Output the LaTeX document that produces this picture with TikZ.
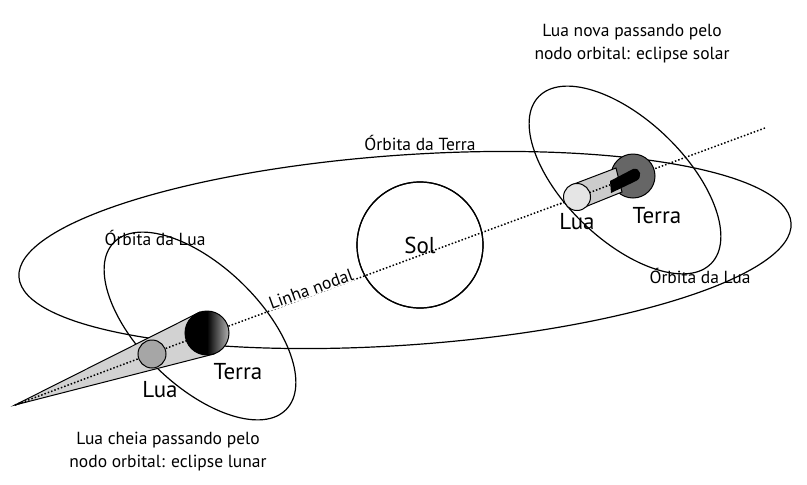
\documentclass[tikz,border=0pt]{standalone}
\usepackage{fontspec}
\setmainfont{PT Sans}
\begin{document}
\begin{tikzpicture}[x=1pt,y=-1pt,
  orb/.style={draw=black,line width=1.2pt},
  lbl/.style={font=\fontsize{17.5}{19}\selectfont},
  big/.style={font=\fontsize{23}{25}\selectfont}]
\useasboundingbox (0,0) rectangle (807,485);
% orbits
\draw[orb] (405,250) ellipse[x radius=387,y radius=95,rotate=4];
\node[circle,draw,line width=1.2pt,minimum size=126pt,fill=white] (sol) at (420,245) {};
\node[big] at (sol) {Sol};
\coordinate (apex) at (15,405);
\coordinate (far) at (765,128);
\draw[dotted,line width=1.5pt] (apex) -- (far);
\node[circle,draw,line width=1.2pt,minimum size=126pt] at (420,245) {};
\draw[orb] (200,326) ellipse[x radius=120,y radius=60,rotate=-44];
\draw[orb] (625,180) ellipse[x radius=120,y radius=60,rotate=-44];
% left: eclipse lunar
\coordinate (e1) at (207,333);
\fill[gray!35,draw=black,line width=1pt] (apex) -- (200,312) -- (214,354) -- cycle;
\draw[dotted,line width=1.5pt] (apex) -- (e1);
\node[circle,draw,line width=1pt,minimum size=28pt,fill=gray!70] (lua1) at (152,354) {};
\node[circle,draw,line width=1pt,minimum size=44pt,left color=black,right color=gray!60,middle color=black,shading angle=90] (terra1) at (e1) {};
\fill[black] (e1) ++(0,-21) arc[start angle=-90,end angle=-270,radius=21] -- cycle;
% right: eclipse solar
\coordinate (e2) at (633,176);
\node[circle,draw,line width=1pt,minimum size=44pt,fill=gray!80!black] (terra2) at (e2) {};
\fill[gray!40,draw=black,line width=1pt] (574,184) -- (616,168) -- (622,192) -- (580,209) -- cycle;
\draw[dotted,line width=1.5pt] (560,204) -- (e2);
\fill[black] (610,181) -- (633,169) .. controls (641,167) and (643,178) .. (636,181) -- (611,193) -- cycle;
\node[circle,draw,line width=1pt,minimum size=27pt,fill=gray!20] (lua2) at (577,197) {};
% labels
\node[lbl] (ot) at (420,143) {Órbita da Terra};
\node[lbl] (ol1) at (155,238) {Órbita da Lua};
\node[lbl] (ol2) at (700,276) {Órbita da Lua};
\node[lbl,rotate=20,fill=white,inner sep=0.5pt] (ln) at (311,289) {Linha nodal};
\node[big] (l2) at (577,222) {Lua};
\node[big] (t2) at (657,216) {Terra};
\node[big] (l1) at (160,390) {Lua};
\node[big] (t1) at (238,372) {Terra};
\node[lbl,align=center] (c1) at (632,44) {Lua nova passando pelo\\[4pt]nodo orbital: eclipse solar};
\node[lbl,align=center] (c2) at (168,452) {Lua cheia passando pelo\\[4pt]nodo orbital: eclipse lunar};
\end{tikzpicture}
\end{document}
